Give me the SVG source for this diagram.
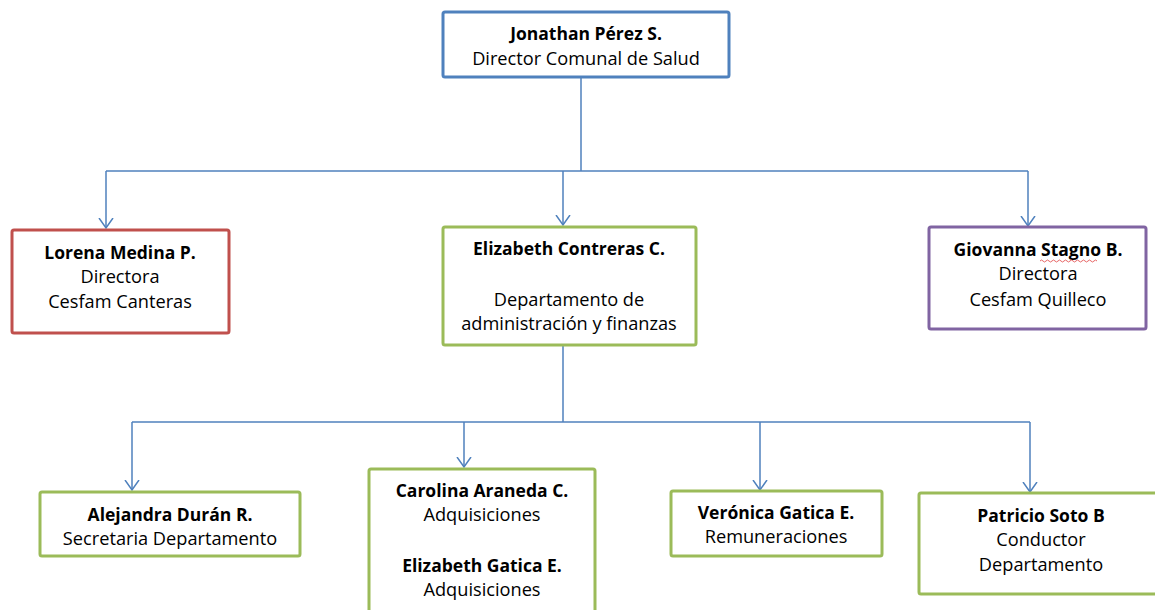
<svg xmlns="http://www.w3.org/2000/svg" width="1155" height="610" viewBox="0 0 1155 610">
<style>
text{font-family:"Open Sans",Lato,"Liberation Sans",sans-serif;font-size:18.2px;fill:#000;text-anchor:middle}
.b{font-weight:bold;font-size:17.5px}
.box{fill:#fff;stroke-width:3}
.blue{stroke:#4F81BD}
.red{stroke:#C0504D}
.green{stroke:#9BBB59}
.purple{stroke:#8064A2}
.conn{fill:none;stroke:#4F81BD;stroke-width:1.5}
</style>
<defs>
<marker id="arr" markerWidth="20" markerHeight="20" refX="10" refY="10" orient="auto" markerUnits="userSpaceOnUse">
<path d="M0,3 L10,10 L0,17" fill="none" stroke="#4F81BD" stroke-width="1.5"/>
</marker>
</defs>
<rect width="1155" height="610" fill="#fff"/>
<g id="connectors">
<path class="conn" d="M581,77 V171"/>
<path class="conn" d="M106,171 H1028"/>
<path class="conn" d="M106,171 V228" marker-end="url(#arr)"/>
<path class="conn" d="M563,171 V225" marker-end="url(#arr)"/>
<path class="conn" d="M1028,171 V226" marker-end="url(#arr)"/>
<path class="conn" d="M563,345 V422"/>
<path class="conn" d="M132,422 H1030"/>
<path class="conn" d="M132,422 V490" marker-end="url(#arr)"/>
<path class="conn" d="M464,422 V467" marker-end="url(#arr)"/>
<path class="conn" d="M760,422 V490" marker-end="url(#arr)"/>
<path class="conn" d="M1030,422 V492" marker-end="url(#arr)"/>
</g>
<g id="director">
<rect class="box blue" x="443" y="12" width="286" height="65" rx="2"/>
<text class="b" x="586" y="40">Jonathan Pérez S.</text>
<text x="586" y="65">Director Comunal de Salud</text>
</g>
<g id="lorena">
<rect class="box red" x="12" y="230" width="217" height="103" rx="2"/>
<text class="b" x="120" y="259">Lorena Medina P.</text>
<text x="120" y="283">Directora</text>
<text x="120" y="308">Cesfam Canteras</text>
</g>
<g id="elizabeth-contreras">
<rect class="box green" x="443" y="227" width="253" height="118" rx="2"/>
<text class="b" x="569" y="255">Elizabeth Contreras C.</text>
<text x="569" y="306">Departamento de</text>
<text x="569" y="330">administración y finanzas</text>
</g>
<g id="giovanna">
<rect class="box purple" x="929" y="227" width="217" height="102" rx="2"/>
<text class="b" x="1038" y="256">Giovanna Stagno B.</text>
<path d="M1040,261 q1.5,-2 3,0 t3,0 t3,0 t3,0 t3,0 t3,0 t3,0 t3,0 t3,0 t3,0 t3,0 t3,0 t3,0 t3,0 t3,0 t3,0 t3,0 t3,0 t3,0" fill="none" stroke="#E04040" stroke-width="0.8"/>
<text x="1038" y="280">Directora</text>
<text x="1038" y="306">Cesfam Quilleco</text>
</g>
<g id="alejandra">
<rect class="box green" x="40" y="492" width="260" height="64" rx="2"/>
<text class="b" x="170" y="521">Alejandra Durán R.</text>
<text x="170" y="545">Secretaria Departamento</text>
</g>
<g id="carolina-elizabeth">
<rect class="box green" x="369" y="469" width="226" height="160" rx="2"/>
<text class="b" x="482" y="497">Carolina Araneda C.</text>
<text x="482" y="521">Adquisiciones</text>
<text class="b" x="482" y="572">Elizabeth Gatica E.</text>
<text x="482" y="596">Adquisiciones</text>
</g>
<g id="veronica">
<rect class="box green" x="671" y="491" width="211" height="65" rx="2"/>
<text class="b" x="776" y="519">Verónica Gatica E.</text>
<text x="776" y="543">Remuneraciones</text>
</g>
<g id="patricio">
<rect class="box green" x="919" y="493" width="250" height="101" rx="2"/>
<text class="b" x="1041" y="522">Patricio Soto B</text>
<text x="1041" y="546">Conductor</text>
<text x="1041" y="571">Departamento</text>
</g>
</svg>
